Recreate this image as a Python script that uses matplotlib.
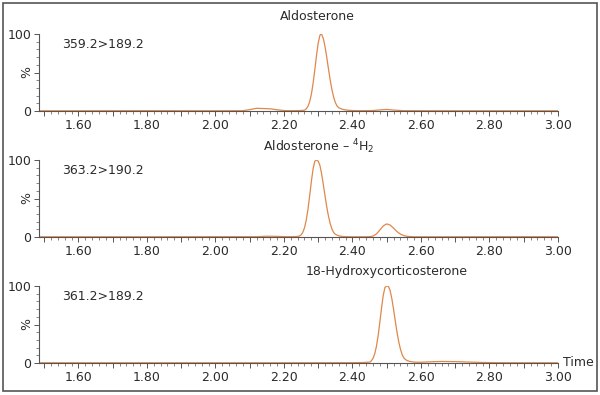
import matplotlib
matplotlib.use("Agg")
import matplotlib.pyplot as plt
import matplotlib.transforms as mtransforms
from matplotlib.ticker import MultipleLocator, FuncFormatter
from matplotlib.patches import Rectangle

plt.rcParams['font.family'] = ['DejaVu Sans']
plt.rcParams['mathtext.default'] = 'regular'

# chromatogram traces (time in min, relative intensity in %)
time_1 = [1.485, 1.60, 1.80, 2.00, 2.08, 2.10, 2.12, 2.14, 2.16, 2.18, 2.20, 2.22, 2.25,
          2.26, 2.265, 2.27, 2.275, 2.28, 2.285, 2.29, 2.295, 2.30, 2.305, 2.308,
          2.31, 2.315, 2.32, 2.325, 2.33, 2.335, 2.34, 2.345, 2.35, 2.355, 2.36,
          2.37, 2.38, 2.39, 2.40, 2.42, 2.46, 2.48, 2.50, 2.52, 2.55, 2.70, 2.90, 3.00]
signal_1 = [0.3, 0.3, 0.4, 0.3, 0.4, 1.8, 3.5, 3.2, 2.8, 1.6, 0.6, 0.4, 0.6,
            1.1, 2.7, 6.0, 11.9, 21.6, 35.6, 53.1, 71.9, 88.2, 98.3, 100,
            99.5, 94.1, 83.5, 69.7, 54.6, 40.2, 27.8, 18.1, 11.0, 6.6, 4.2,
            2.3, 1.4, 0.9, 0.6, 0.4, 0.6, 1.4, 2.0, 1.2, 0.4, 0.3, 0.3, 0.3]

time_2 = [1.485, 1.60, 1.80, 2.00, 2.12, 2.15, 2.18, 2.21, 2.235,
          2.245, 2.25, 2.255, 2.26, 2.265, 2.27, 2.275, 2.28, 2.285, 2.29, 2.295,
          2.30, 2.305, 2.31, 2.315, 2.32, 2.325, 2.33, 2.335, 2.34, 2.345, 2.35,
          2.36, 2.37, 2.38, 2.40, 2.44, 2.45, 2.46, 2.47, 2.48, 2.49, 2.50, 2.51,
          2.52, 2.53, 2.54, 2.55, 2.56, 2.58, 2.70, 2.90, 3.00]
signal_2 = [0.3, 0.3, 0.3, 0.4, 0.4, 1.0, 0.8, 0.4, 0.5,
            1.1, 2.7, 6.0, 11.9, 21.6, 35.6, 53.1, 71.9, 88.2, 98.3, 100,
            98.5, 93.0, 82.0, 68.0, 53.0, 39.0, 27.0, 17.5, 10.5, 6.0, 3.5,
            1.5, 0.7, 0.4, 0.3, 0.3, 0.5, 1.2, 4.0, 9.0, 14.5, 17.0, 15.5,
            11.5, 7.0, 3.8, 1.8, 0.8, 0.3, 0.3, 0.4, 0.3]

time_3 = [1.485, 1.60, 1.80, 2.00, 2.20, 2.40, 2.43,
          2.45, 2.455, 2.46, 2.465, 2.47, 2.475, 2.48, 2.485, 2.49, 2.495, 2.50,
          2.502, 2.505, 2.51, 2.515, 2.52, 2.525, 2.53, 2.535, 2.54, 2.545, 2.55,
          2.555, 2.56, 2.57, 2.58, 2.59, 2.60, 2.63, 2.66, 2.70, 2.74, 2.78, 2.82,
          2.90, 3.00]
signal_3 = [0.3, 0.3, 0.3, 0.3, 0.3, 0.4, 0.6,
            1.1, 2.7, 6.0, 11.9, 21.6, 35.6, 53.1, 71.9, 88.2, 98.3, 99.8,
            100, 99.5, 94.1, 83.5, 69.7, 54.6, 40.2, 27.8, 18.1, 11.0, 6.6,
            4.4, 3.0, 1.8, 1.2, 1.0, 1.0, 1.6, 2.0, 1.8, 1.2, 0.7, 0.4,
            0.3, 0.3]

compounds = ['Aldosterone', 'Aldosterone – $^4$H$_2$', '18-Hydroxycorticosterone']
transitions = ['359.2>189.2', '363.2>190.2', '361.2>189.2']
title_times = [2.297, 2.302, 2.50]

traces = [(time_1, signal_1), (time_2, signal_2), (time_3, signal_3)]

line_color = '#e0874a'
text_color = '#2b2b2b'

fig = plt.figure(figsize=(6, 3.95), dpi=100)
fig.patches.append(Rectangle((3 / 600, 4 / 395), 594 / 600, 388 / 395,
                             transform=fig.transFigure, fill=False,
                             edgecolor='#555555', linewidth=1.2))

# bottom of each panel (pixel row of the 0 line) and title offsets above the panel
zero_rows = [111, 237, 363]
title_offsets = [17, 13, 14]
panel_h = 77

for i, (t, s) in enumerate(traces):
    bottom = (395 - zero_rows[i]) / 395
    ax = fig.add_axes([39 / 600, bottom, 519 / 600, panel_h / 395])
    ax.plot(t, s, color=line_color, linewidth=0.9)
    ax.set_xlim(1.485, 3.0)
    ax.set_ylim(0, 100)

    for side in ['top', 'right']:
        ax.spines[side].set_visible(False)
    for side in ['left', 'bottom']:
        ax.spines[side].set_color('#555555')
        ax.spines[side].set_linewidth(0.8)

    ax.xaxis.set_major_locator(MultipleLocator(0.1))
    ax.xaxis.set_minor_locator(MultipleLocator(0.02))
    ax.xaxis.set_major_formatter(FuncFormatter(
        lambda v, p: '%.2f' % v if round(v * 10) % 2 == 0 else ''))
    ax.yaxis.set_major_locator(MultipleLocator(50))
    ax.yaxis.set_minor_locator(MultipleLocator(10))
    ax.yaxis.set_major_formatter(FuncFormatter(
        lambda v, p: '%d' % v if v in (0, 100) else ''))

    ax.tick_params(which='major', length=3.5, width=0.7, color='#555555',
                   labelsize=9, labelcolor=text_color, pad=2)
    ax.tick_params(which='minor', length=2, width=0.5, color='#555555')

    ax.text(-0.024, 0.5, '%', transform=ax.transAxes, rotation=90,
            fontsize=9, color=text_color, ha='center', va='center')

    ax.text(0.044, 0.87, transitions[i], transform=ax.transAxes,
            fontsize=9, color=text_color, va='center', ha='left')

    trans = mtransforms.blended_transform_factory(ax.transData, ax.transAxes)
    ax.text(title_times[i], 1 + title_offsets[i] / panel_h, compounds[i],
            transform=trans, fontsize=9, color=text_color,
            ha='center', va='center')

    if i == 2:
        ax.text(1.01, 0.0, 'Time', transform=ax.transAxes, fontsize=9,
                color=text_color, ha='left', va='center')

fig.savefig('out.png', dpi=100)
